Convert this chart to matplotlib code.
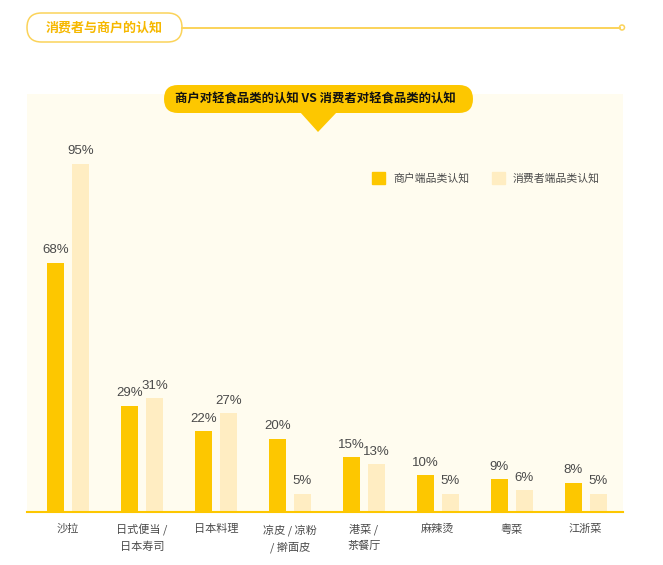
import matplotlib
matplotlib.use("Agg")
import matplotlib.pyplot as plt
import numpy as np
from matplotlib.patches import FancyBboxPatch, Polygon, Circle, Patch

plt.rcParams["font.family"] = ["Noto Sans CJK SC", "DejaVu Sans"]

categories = ["沙拉", "日式便当 /\n日本寿司", "日本料理", "凉皮 / 凉粉\n/ 擀面皮",
              "港菜 /\n茶餐厅", "麻辣烫", "粤菜", "江浙菜"]
merchant = [68, 29, 22, 20, 15, 10, 9, 8]
consumer = [95, 31, 27, 5, 13, 5, 6, 5]
series_names = ["商户端品类认知", "消费者端品类认知"]

section_title = "消费者与商户的认知"
chart_title = "商户对轻食品类的认知 VS 消费者对轻食品类的认知"

C_MERCHANT = "#FDC700"
C_CONSUMER = "#FFEDC2"
C_PANEL = "#FFFCEF"
C_TEXT = "#4a4a4a"
C_LINE = "#FBD35A"

W, H = 663, 565
fig = plt.figure(figsize=(W / 100, H / 100), dpi=100)

# main chart axes, placed in pixel terms
left, right, top, base = 27, 623, 94, 512
ax = fig.add_axes([left / W, 1 - base / H, (right - left) / W, (base - top) / H])
ax.set_facecolor(C_PANEL)

x = np.arange(len(categories))
bw = 0.23
off = 0.169
b1 = ax.bar(x - off, merchant, bw, color=C_MERCHANT, zorder=2)
b2 = ax.bar(x + off, consumer, bw, color=C_CONSUMER, zorder=2)

for bars, vals in ((b1, merchant), (b2, consumer)):
    for rect, v in zip(bars, vals):
        ax.annotate(f"{v}%", (rect.get_x() + rect.get_width() / 2, rect.get_height()),
                    xytext=(0, 4.5), textcoords="offset points", ha="center", va="bottom",
                    fontsize=9.5, color=C_TEXT, family=["Liberation Sans", "DejaVu Sans"])

ax.set_xlim(-0.555, 7.507)
ax.set_ylim(0, 114)
ax.set_xticks(x)
ax.set_xticklabels(categories, fontsize=8, color=C_TEXT, linespacing=1.65, va="top")
ax.tick_params(axis="x", length=0, pad=8.5)
ax.set_yticks([])
for s in ("left", "right", "top"):
    ax.spines[s].set_visible(False)
ax.spines["bottom"].set_color(C_MERCHANT)
ax.spines["bottom"].set_linewidth(1.5)

ax.legend([Patch(color=C_MERCHANT), Patch(color=C_CONSUMER)], series_names,
          loc="center", bbox_to_anchor=(486 / W, 1 - 178 / H),
          bbox_transform=fig.transFigure, ncol=2, frameon=False,
          fontsize=7.8, labelcolor=C_TEXT, handlelength=1.2, handleheight=1.2,
          handletextpad=0.75, columnspacing=2.1)

# decoration overlay in pixel coordinates
ov = fig.add_axes([0, 0, 1, 1], zorder=5)
ov.set_xlim(0, W)
ov.set_ylim(H, 0)
ov.axis("off")
ov.patch.set_alpha(0)

ov.add_patch(FancyBboxPatch((27, 13), 155, 29, boxstyle="round,pad=0,rounding_size=14.5",
                            fc="white", ec=C_LINE, lw=1.1))
ov.text(104, 27.5, section_title, ha="center", va="center", fontsize=9.4,
        fontweight="bold", color="#F6B800")
ov.plot([182, 619.5], [27.5, 27.5], color=C_LINE, lw=1.4)
ov.add_patch(Circle((622, 27.5), 2.5, fc="white", ec=C_LINE, lw=1.1))

ov.add_patch(FancyBboxPatch((164, 85), 309, 28, boxstyle="round,pad=0,rounding_size=14",
                            fc=C_MERCHANT, ec="none"))
ov.add_patch(Polygon([(300, 112), (337, 112), (318, 132)], closed=True,
                     fc=C_MERCHANT, ec="none"))
ov.text(315, 99, chart_title, ha="center", va="center", fontsize=8.9,
        fontweight="bold", color="#111111")

fig.savefig("out.png", dpi=100)
